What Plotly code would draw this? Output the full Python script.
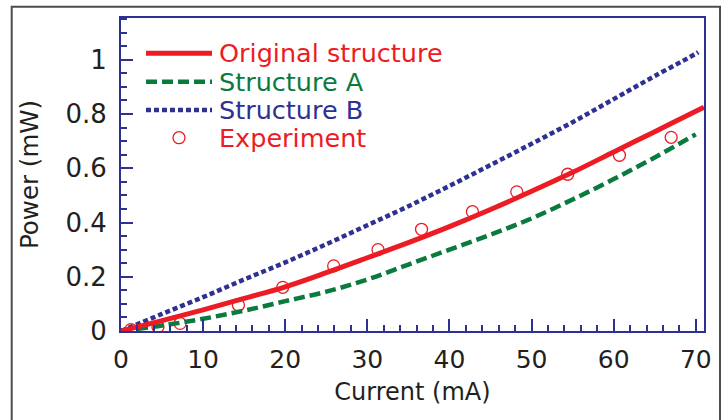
import plotly.graph_objects as go

# ---- data ----
red_x = [0, 5, 10, 15, 20, 25, 30, 35, 40, 45, 50, 55, 60, 65, 70, 71]
red_y = [0, 0.038, 0.078, 0.12, 0.163, 0.215, 0.27, 0.326, 0.385, 0.448, 0.515, 0.585, 0.66, 0.735, 0.81, 0.825]

green_x = [0, 5, 10, 15, 20, 25, 30, 35, 40, 45, 50, 55, 60, 65, 70]
green_y = [0, 0.02, 0.045, 0.075, 0.11, 0.145, 0.19, 0.245, 0.30, 0.355, 0.415, 0.485, 0.56, 0.64, 0.725]

blue_x = [0, 5, 10, 15, 20, 25, 30, 35, 40, 45, 50, 55, 60, 65, 70, 70.3]
blue_y = [0, 0.063, 0.125, 0.19, 0.253, 0.32, 0.39, 0.46, 0.535, 0.612, 0.69, 0.77, 0.855, 0.94, 1.022, 1.028]

exp_x = [1.2, 4.5, 7.2, 14.3, 19.7, 25.9, 31.3, 36.6, 42.8, 48.2, 54.4, 60.7, 67.0]
exp_y = [0.005, 0.016, 0.028, 0.096, 0.161, 0.24, 0.30, 0.375, 0.44, 0.513, 0.578, 0.648, 0.714]

names = ["Original structure", "Structure A", "Structure B", "Experiment"]
x_ticks = [0, 10, 20, 30, 40, 50, 60, 70]
y_ticks = [0, 0.2, 0.4, 0.6, 0.8, 1]
y_tick_text = ["0", "0.2", "0.4", "0.6", "0.8", "1"]

# ---- styles ----
RED = "#ec1c24"
GREEN = "#0b7a3e"
BLUE = "#2e3192"
NAVY = "#2e3192"
TXT = "#231f20"
FONT = "DejaVu Sans"

W, H = 727, 420
ML, MR, MT, MB = 121, 23, 18, 89
PW = W - ML - MR
PH = H - MT - MB

def px(xp):
    return (xp - ML) / PW

def py(yp):
    return (H - MB - yp) / PH

fig = go.Figure()
fig.add_trace(go.Scatter(x=exp_x, y=exp_y, mode="markers", name=names[3],
                         marker=dict(symbol="circle-open", size=12, color=RED,
                                     line=dict(width=1.3, color=RED)),
                         showlegend=False))
fig.add_trace(go.Scatter(x=green_x, y=green_y, mode="lines", name=names[1],
                         line=dict(color=GREEN, width=4.5, dash="11px,5px", shape="spline"),
                         showlegend=False))
fig.add_trace(go.Scatter(x=blue_x, y=blue_y, mode="lines", name=names[2],
                         line=dict(color=BLUE, width=4.5, dash="5px,3px", shape="spline"),
                         showlegend=False))
fig.add_trace(go.Scatter(x=red_x, y=red_y, mode="lines", name=names[0],
                         line=dict(color=RED, width=5, shape="spline"),
                         showlegend=False))

# ---- manual legend ----
rows_y = [53.3, 81.7, 110, 137.7]
styles = [(RED, "solid", 5), (GREEN, "11px,5px", 4.5), (BLUE, "5px,3px", 4.5)]
text_colors = [RED, GREEN, BLUE, RED]
shapes = []
annotations = []
for i, (c, d, w) in enumerate(styles):
    shapes.append(dict(type="line", xref="paper", yref="paper",
                       x0=px(146), x1=px(212), y0=py(rows_y[i]), y1=py(rows_y[i]),
                       line=dict(color=c, width=w, dash=d)))
shapes.append(dict(type="circle", xref="paper", yref="paper",
                   xsizemode="pixel", ysizemode="pixel",
                   xanchor=px(179), yanchor=py(rows_y[3]),
                   x0=-6, x1=6, y0=-6, y1=6,
                   line=dict(color=RED, width=1.3)))
for i, n in enumerate(names):
    annotations.append(dict(text=n, xref="paper", yref="paper", x=px(217), y=py(rows_y[i]),
                            xanchor="left", yanchor="middle", showarrow=False,
                            font=dict(family=FONT, size=25.5, color=text_colors[i])))

# outer frame
shapes.append(dict(type="rect", xref="paper", yref="paper", layer="below",
                   x0=px(11.7), x1=px(720), y0=py(440), y1=py(6.7),
                   line=dict(color="#4d4d4d", width=2)))

fig.update_layout(
    width=W, height=H,
    margin=dict(l=ML, r=MR, t=MT, b=MB, autoexpand=False),
    paper_bgcolor="white", plot_bgcolor="white",
    shapes=shapes, annotations=annotations,
    showlegend=False,
    xaxis=dict(range=[0, 71], tickvals=x_ticks, ticks="inside", ticklen=12, tickwidth=2,
               tickcolor=NAVY, showline=True, linecolor=NAVY, linewidth=2, mirror=True,
               showgrid=False, zeroline=False, automargin=False,
               minor=dict(dtick=2, ticks="inside", ticklen=6, tickwidth=2, tickcolor=NAVY, showgrid=False),
               tickfont=dict(family=FONT, size=25, color=TXT), ticklabelstandoff=5,
               title=dict(text="Current (mA)", font=dict(family=FONT, size=24, color=TXT), standoff=10)),
    yaxis=dict(range=[0, 1.154], tickvals=y_ticks, ticktext=y_tick_text, ticks="inside", ticklen=12,
               tickwidth=2, tickcolor=NAVY, showline=True, linecolor=NAVY, linewidth=2, mirror=True,
               showgrid=False, zeroline=False, automargin=False,
               minor=dict(dtick=0.05, ticks="inside", ticklen=6, tickwidth=2, tickcolor=NAVY, showgrid=False),
               tickfont=dict(family=FONT, size=26, color=TXT), ticklabelstandoff=7,
               title=dict(text="Power (mW)", font=dict(family=FONT, size=24.5, color=TXT), standoff=20)),
)

fig.write_html("out.html",
               config={"displayModeBar": False},
               post_script="document.body.style.margin='0';document.body.style.overflow='hidden';")
